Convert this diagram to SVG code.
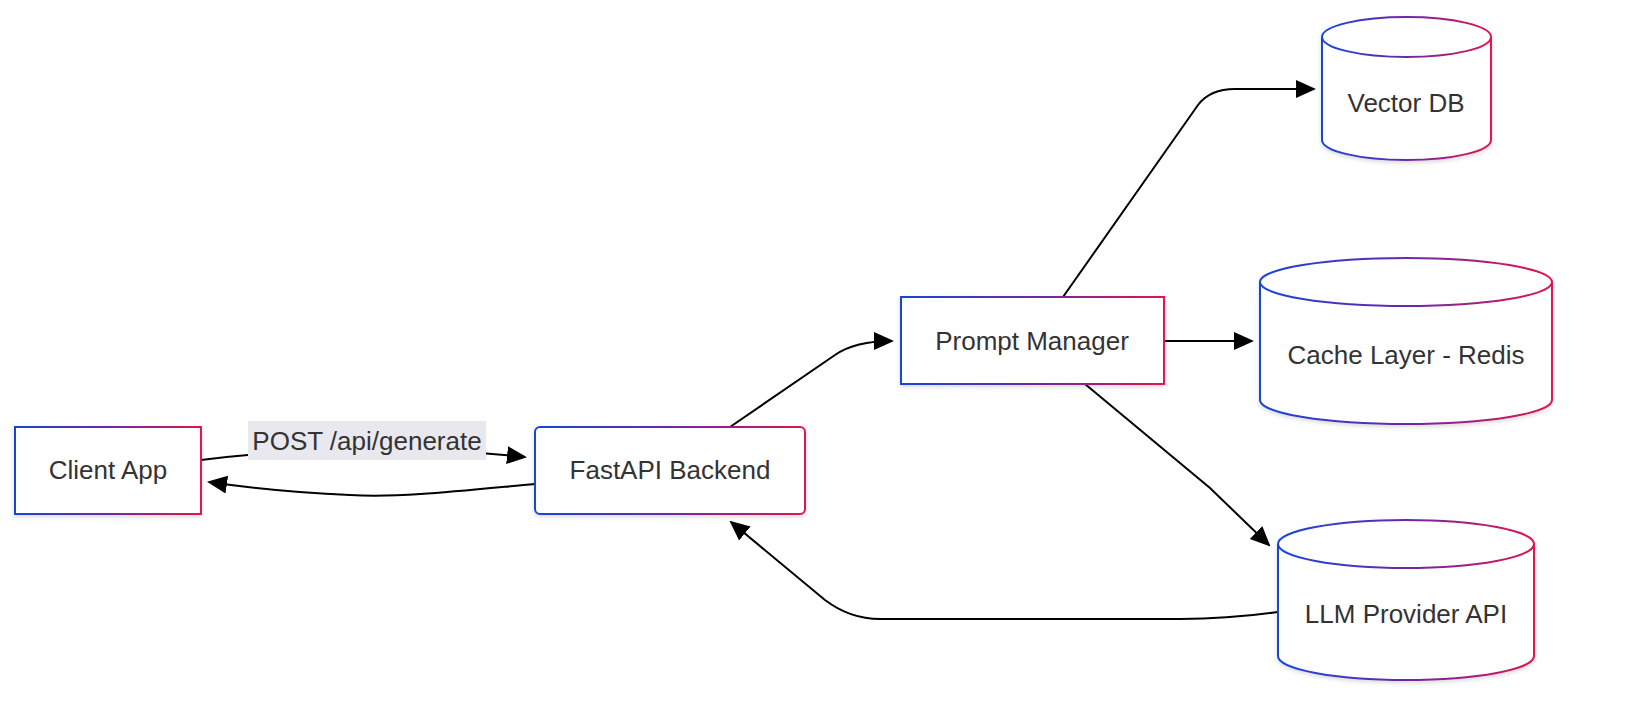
<svg xmlns="http://www.w3.org/2000/svg" width="1626" height="723" viewBox="0 0 1626 723">
<defs>
<linearGradient id="g" x1="0" y1="0" x2="1" y2="0"><stop offset="0" stop-color="#1546d8"/><stop offset="0.5" stop-color="#6a2aa8"/><stop offset="1" stop-color="#e3124f"/></linearGradient>
<filter id="sh" x="-10%" y="-10%" width="120%" height="130%"><feDropShadow dx="0" dy="2" stdDeviation="2" flood-color="#000" flood-opacity="0.15"/></filter>
<marker id="a" markerWidth="20" markerHeight="20" refX="18" refY="10" orient="auto" markerUnits="userSpaceOnUse" viewBox="0 0 20 20"><path d="M0,1 L20,10 L0,19 z" fill="#000"/></marker>
</defs>
<style>
.n{fill:#fff;stroke:url(#g);stroke-width:2;filter:url(#sh)}
.t{font-family:"Liberation Sans",Arial,sans-serif;font-size:26px;fill:#333;text-anchor:middle;dominant-baseline:central}
.e{fill:none;stroke:#000;stroke-width:2}
</style>
<rect width="1626" height="723" fill="#fff"/>
<g id="edges">
<path class="e" d="M201,460 Q367,440 525,457" marker-end="url(#a)"/>
<rect x="248" y="421" width="238" height="39" fill="#e8e8ee"/>
<text class="t" x="367" y="441">POST /api/generate</text>
<path class="e" d="M535,484 C460,491 400,498 350,495 C300,493 250,488 209,482" marker-end="url(#a)"/>
<path class="e" d="M730,427 L835,355 Q855,341 892,341" marker-end="url(#a)"/>
<path class="e" d="M1063,297 L1198,105 Q1210,89 1235,89 L1314,89" marker-end="url(#a)"/>
<path class="e" d="M1164,341 L1252,341" marker-end="url(#a)"/>
<path class="e" d="M1085,384 L1210,488 L1269,545" marker-end="url(#a)"/>
<path class="e" d="M1278,612 Q1230,619 1180,619 L880,619 Q850,619 825,600 L731,522" marker-end="url(#a)"/>
</g>
<g id="client"><rect class="n" x="15" y="427" width="186" height="87"/><text class="t" x="108" y="470">Client App</text></g>
<g id="fastapi"><rect class="n" x="535" y="427" width="270" height="87" rx="5"/><text class="t" x="670" y="470">FastAPI Backend</text></g>
<g id="prompt"><rect class="n" x="901" y="297" width="263" height="87"/><text class="t" x="1032" y="341">Prompt Manager</text></g>
<g id="vector"><path class="n" d="M1322,37 A84.5,20 0 0 1 1491,37 L1491,140 A84.5,20 0 0 1 1322,140 Z"/><path d="M1322,37 A84.5,20 0 0 0 1491,37" fill="none" stroke="url(#g)" stroke-width="2"/><text class="t" x="1406" y="103">Vector DB</text></g>
<g id="cache"><path class="n" d="M1260,282 A146,24 0 0 1 1552,282 L1552,400 A146,24 0 0 1 1260,400 Z"/><path d="M1260,282 A146,24 0 0 0 1552,282" fill="none" stroke="url(#g)" stroke-width="2"/><text class="t" x="1406" y="355">Cache Layer - Redis</text></g>
<g id="llm"><path class="n" d="M1278,544 A128,24 0 0 1 1534,544 L1534,656 A128,24 0 0 1 1278,656 Z"/><path d="M1278,544 A128,24 0 0 0 1534,544" fill="none" stroke="url(#g)" stroke-width="2"/><text class="t" x="1406" y="614">LLM Provider API</text></g>
</svg>
